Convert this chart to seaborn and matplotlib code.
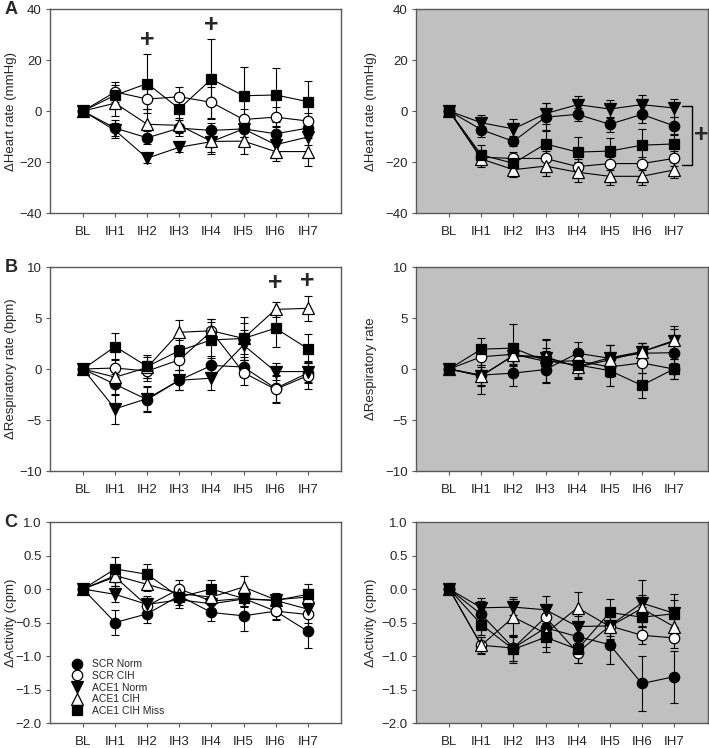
import numpy as np
import pandas as pd
import matplotlib
matplotlib.use("Agg")
import matplotlib.pyplot as plt
from matplotlib.lines import Line2D
import seaborn as sns

sns.set_theme(style="ticks")
plt.rcParams["font.family"] = ["Liberation Sans", "DejaVu Sans"]

# ------------------------------------------------------------
# data (group order: SCR Norm, SCR CIH, ACE1 Norm, ACE1 CIH, ACE1 CIH Miss)
# ------------------------------------------------------------
timepoints = ["BL", "IH1", "IH2", "IH3", "IH4", "IH5", "IH6", "IH7"]
groups = ["SCR Norm", "SCR CIH", "ACE1 Norm", "ACE1 CIH", "ACE1 CIH Miss"]

hr_left_mean = [
    [0, -6.7, -10.5, -6.7, -7.6, -7.0, -8.9, -6.7],
    [0, 7.5, 4.7, 5.6, 3.4, -3.3, -2.4, -3.9],
    [0, -7.6, -18.5, -14.2, -12.0, -7.0, -13.2, -10.2],
    [0, 3.1, -5.2, -5.6, -11.9, -11.8, -15.9, -15.9],
    [0, 6.2, 10.8, 0.9, 12.5, 6.0, 6.3, 3.7],
]
hr_left_err = [
    [0, 3, 2.5, 3, 3, 3, 3, 2.5],
    [0, 4, 4, 4, 6, 4, 4, 3],
    [0, 3, 2, 2, 4, 3, 3, 3],
    [0, 5, 6, 3, 5, 5, 3.5, 5.5],
    [0, 4, 11.4, 6, 15.8, 11.3, 10.6, 8],
]
hr_right_mean = [
    [0, -7.3, -11.9, -2.4, -1.3, -5.2, -1.3, -5.8],
    [0, -18.1, -18.6, -18.6, -21.8, -20.6, -20.6, -18.6],
    [0, -4.6, -7.0, -1.0, 2.5, 0.8, 2.5, 1.2],
    [0, -18.8, -23.0, -21.6, -24.0, -25.6, -25.6, -23.1],
    [0, -17.2, -20.5, -12.9, -16.1, -15.7, -13.4, -12.9],
]
hr_right_err = [
    [0, 3, 2, 5.5, 2.5, 3, 3.5, 3.5],
    [0, 3, 2.5, 3, 3, 2.5, 2.5, 3],
    [0, 3, 4, 4, 3.3, 3.5, 3.8, 3.5],
    [0, 3, 3, 4, 4, 3.6, 3.6, 3.2],
    [0, 4, 3, 5.5, 6, 5, 6.5, 4],
]

rr_left_mean = [
    [0, -1.5, -3.0, -1.1, 0.35, 0.2, -1.9, -0.4],
    [0, 0.1, -0.2, 0.9, 3.7, -0.35, -2.0, -0.65],
    [0, -3.9, -2.9, -1.1, -0.9, 2.35, -0.25, -0.25],
    [0, -0.8, 0.15, 3.6, 3.75, 3.0, 5.85, 5.95],
    [0, 2.2, 0.25, 1.8, 2.85, 3.0, 4.0, 2.0],
]
rr_left_err = [
    [0, 1.0, 1.2, 1.0, 0.9, 1.0, 1.3, 1.0],
    [0, 0.9, 1.0, 1.0, 1.2, 1.2, 1.3, 1.3],
    [0, 1.5, 1.2, 1.0, 1.2, 1.5, 0.8, 1.0],
    [0, 1.0, 1.0, 1.2, 1.2, 1.5, 0.7, 1.2],
    [0, 1.3, 1.1, 1.0, 1.8, 2.1, 1.8, 1.4],
]
rr_right_mean = [
    [0, -0.6, -0.4, -0.05, 1.55, 1.05, 1.55, 1.6],
    [0, 1.2, 1.45, 0.75, 0.8, 0.2, 0.6, 0.0],
    [0, -0.65, 1.3, 1.1, 0.25, 1.1, 1.7, 2.7],
    [0, -0.7, 1.35, 1.2, 0.2, 0.9, 1.7, 2.8],
    [0, 1.95, 2.05, 0.8, 0.4, -0.15, -1.6, 0.0],
]
rr_right_err = [
    [0, 1.0, 1.3, 1.3, 1.1, 1.3, 1.0, 1.0],
    [0, 1.0, 1.0, 1.0, 1.0, 1.0, 1.0, 1.0],
    [0, 1.0, 1.0, 1.0, 1.0, 1.3, 0.9, 1.2],
    [0, 1.7, 1.0, 1.6, 1.2, 1.5, 0.9, 1.4],
    [0, 1.1, 2.4, 2.1, 1.3, 1.5, 1.2, 1.0],
]

act_left_mean = [
    [0, -0.5, -0.37, -0.1, -0.35, -0.4, -0.33, -0.63],
    [0, 0.18, -0.25, 0.0, -0.18, -0.14, -0.33, -0.38],
    [0, -0.08, -0.23, -0.16, -0.22, -0.15, -0.17, -0.3],
    [0, 0.2, 0.07, -0.07, -0.12, 0.03, -0.16, -0.12],
    [0, 0.3, 0.22, -0.12, 0.0, -0.14, -0.17, -0.08],
]
act_left_err = [
    [0, 0.19, 0.14, 0.1, 0.12, 0.22, 0.12, 0.25],
    [0, 0.13, 0.12, 0.13, 0.12, 0.12, 0.13, 0.13],
    [0, 0.12, 0.12, 0.12, 0.1, 0.12, 0.1, 0.1],
    [0, 0.15, 0.1, 0.1, 0.1, 0.17, 0.1, 0.12],
    [0, 0.18, 0.16, 0.12, 0.13, 0.12, 0.09, 0.15],
]
act_right_mean = [
    [0, -0.38, -0.88, -0.58, -0.71, -0.83, -1.41, -1.31],
    [0, -0.84, -0.88, -0.42, -0.95, -0.55, -0.69, -0.73],
    [0, -0.28, -0.27, -0.31, -0.56, -0.55, -0.21, -0.36],
    [0, -0.84, -0.42, -0.66, -0.28, -0.56, -0.29, -0.56],
    [0, -0.53, -0.9, -0.72, -0.9, -0.35, -0.42, -0.37],
]
act_right_err = [
    [0, 0.2, 0.2, 0.15, 0.2, 0.29, 0.41, 0.39],
    [0, 0.13, 0.2, 0.16, 0.15, 0.2, 0.13, 0.15],
    [0, 0.15, 0.12, 0.2, 0.15, 0.15, 0.34, 0.28],
    [0, 0.12, 0.3, 0.2, 0.24, 0.2, 0.2, 0.2],
    [0, 0.15, 0.2, 0.22, 0.2, 0.2, 0.15, 0.2],
]

# significance marks
sig_hr_x = [2, 4]
sig_hr_y = [27.8, 33.7]
sig_rr_x = [6, 7]
sig_rr_y = [8.4, 8.6]

# marker style per group
markers = {"SCR Norm": "o", "SCR CIH": "o", "ACE1 Norm": "v",
           "ACE1 CIH": "^", "ACE1 CIH Miss": "s"}
faces = {"SCR Norm": "black", "SCR CIH": "white", "ACE1 Norm": "black",
         "ACE1 CIH": "white", "ACE1 CIH Miss": "black"}
msizes = {"SCR Norm": 7.5, "SCR CIH": 7.5, "ACE1 Norm": 8,
          "ACE1 CIH": 8, "ACE1 CIH Miss": 7}

SPINE = "#5a5a5a"
GRAY_BG = "#c0c0c0"

fig = plt.figure(figsize=(7.09, 7.48), dpi=100)
xl, xr, w = 0.0705, 0.587, 0.411
rows = [0.7152, 0.3703, 0.0334]
heights = [0.2727, 0.2727, 0.2687]


def draw_panel(ax, means, errs, ylim, yticks, yfmt, ylabel, bg, label_x):
    x = np.arange(len(timepoints))
    for g, m, e in zip(groups, means, errs):
        df = pd.DataFrame({"t": x, "v": m})
        ax.errorbar(x, m, yerr=e, fmt="none", ecolor="black",
                    elinewidth=0.8, capsize=3, capthick=0.8, zorder=2)
        sns.lineplot(data=df, x="t", y="v", ax=ax, color="black",
                     linewidth=0.8, marker=markers[g], markersize=msizes[g],
                     markerfacecolor=faces[g], markeredgecolor="black",
                     markeredgewidth=0.9, zorder=3, legend=False)
    ax.set_facecolor(bg)
    ax.set_xlim(-1.03, 8.05)
    ax.set_ylim(*ylim)
    ax.set_xticks(x)
    ax.set_xticklabels(timepoints)
    ax.set_yticks(yticks)
    ax.set_yticklabels([yfmt.format(v).replace("-", "\u2212") for v in yticks])
    ax.set_xlabel("")
    ax.set_ylabel(ylabel, fontsize=9.5)
    ax.yaxis.set_label_coords(label_x, 0.5)
    for s in ax.spines.values():
        s.set_color(SPINE)
        s.set_linewidth(1.0)
    ax.tick_params(axis="both", direction="out", length=3, width=0.8,
                   color=SPINE, labelsize=9.5, pad=3)
    ax.tick_params(axis="x", pad=6)


panels = [
    (hr_left_mean, hr_left_err, hr_right_mean, hr_right_err, (-40, 40),
     [-40, -20, 0, 20, 40], "{:.0f}", "\u0394Heart rate (mmHg)", "\u0394Heart rate (mmHg)", "A"),
    (rr_left_mean, rr_left_err, rr_right_mean, rr_right_err, (-10, 10),
     [-10, -5, 0, 5, 10], "{:.0f}", "\u0394Respiratory rate (bpm)", "\u0394Respiratory rate", "B"),
    (act_left_mean, act_left_err, act_right_mean, act_right_err, (-2, 1),
     [-2.0, -1.5, -1.0, -0.5, 0.0, 0.5, 1.0], "{:.1f}", "\u0394Activity (cpm)", "\u0394Activity (cpm)", "C"),
]

axes = []
for (lm, le, rm, re_, ylim, yt, fmt, ylab_l, ylab_r, letter), y0, h in zip(panels, rows, heights):
    axl = fig.add_axes([xl, y0, w, h])
    axr = fig.add_axes([xr, y0, w, h])
    draw_panel(axl, lm, le, ylim, yt, fmt, ylab_l, "white", -0.112)
    draw_panel(axr, rm, re_, ylim, yt, fmt, ylab_r, GRAY_BG, -0.135)
    fig.text(0.006, y0 + h, letter, fontsize=13, fontweight="bold",
             ha="left", va="center")
    axes.append((axl, axr))

# significance plus signs
ax_a, ax_ar = axes[0]
for sx, sy in zip(sig_hr_x, sig_hr_y):
    ax_a.text(sx, sy, "+", fontsize=18, fontweight="bold", ha="center", va="center")
ax_b = axes[1][0]
for sx, sy in zip(sig_rr_x, sig_rr_y):
    ax_b.text(sx, sy, "+", fontsize=18, fontweight="bold", ha="center", va="center")

# bracket on right heart-rate panel
ax_ar.plot([7.25, 7.58, 7.58, 7.25], [2.1, 2.1, -21.1, -21.1],
           color="black", linewidth=1.0, clip_on=False)
ax_ar.text(7.85, -9.4, "+", fontsize=18, fontweight="bold", ha="center",
           va="center", clip_on=False)

# legend in panel C left
ax_c = axes[2][0]
handles = [Line2D([], [], linestyle="none", marker=markers[g],
                  markerfacecolor=faces[g], markeredgecolor="black",
                  markeredgewidth=0.9, markersize=msizes[g]) for g in groups]
ax_c.legend(handles, groups, loc="lower left", bbox_to_anchor=(0.05, 0.0),
            frameon=False, fontsize=7.5, labelspacing=0.15, handletextpad=0.9,
            borderaxespad=0.3, handlelength=1.0)

fig.savefig("out.png", dpi=100)
